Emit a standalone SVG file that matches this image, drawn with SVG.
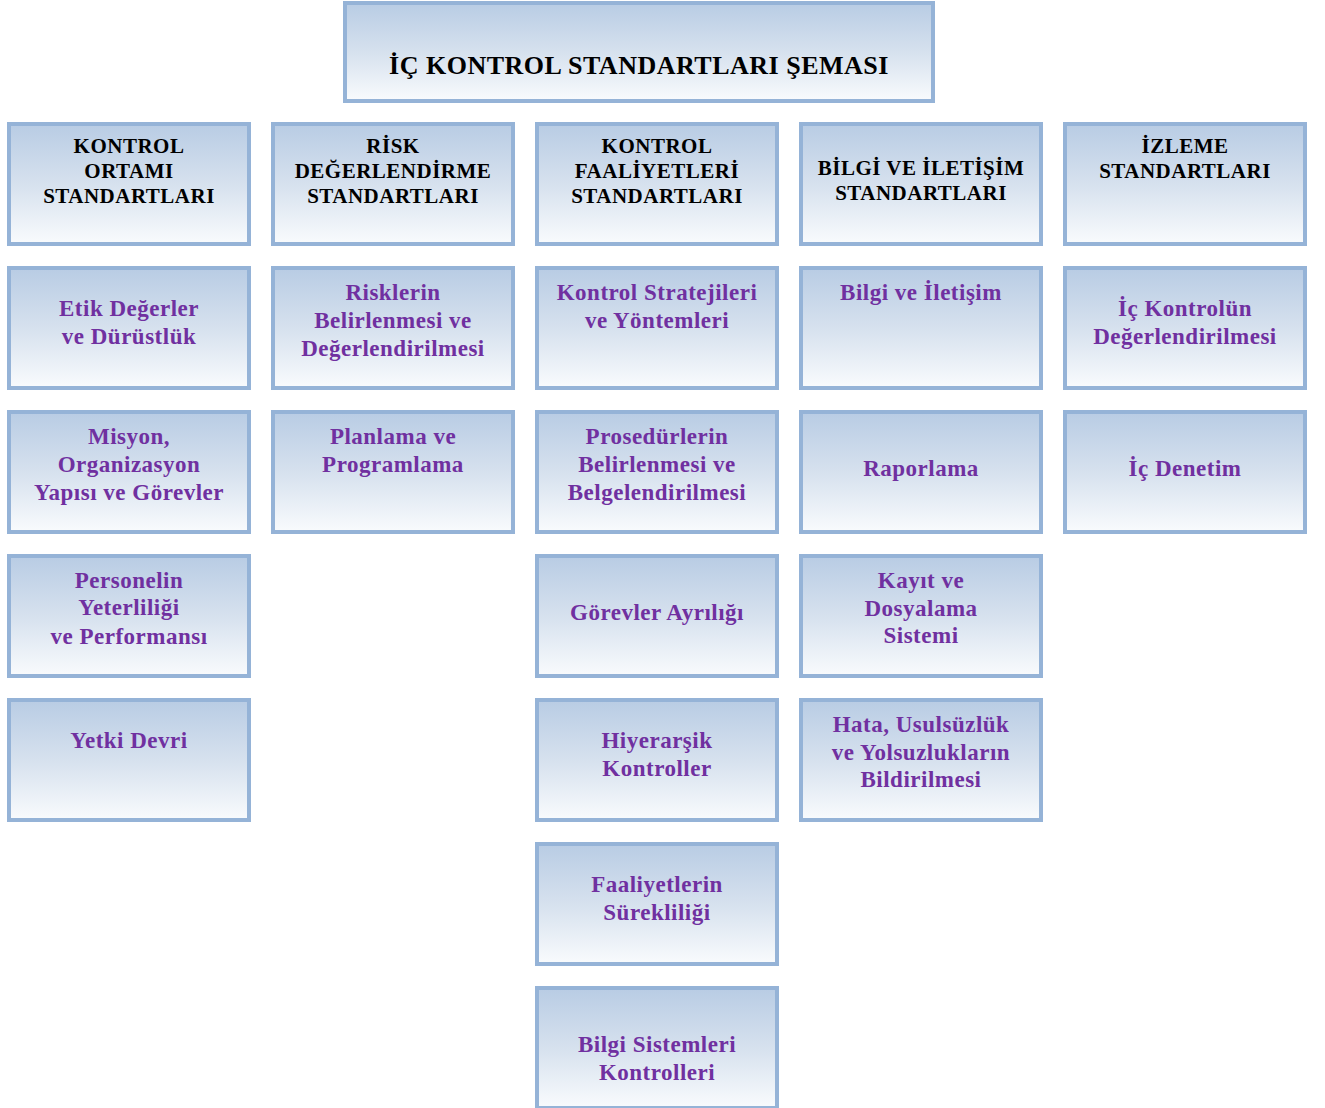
<svg xmlns="http://www.w3.org/2000/svg" width="1325" height="1108" viewBox="0 0 1325 1108">
<defs>
<linearGradient id="g" x1="0" y1="0" x2="0" y2="1">
<stop offset="0" stop-color="#b8cce4"/>
<stop offset="0.5" stop-color="#d6e1ee"/>
<stop offset="1" stop-color="#f9fbfd"/>
</linearGradient>
<style>
.b{fill:url(#g);stroke:#95b3d7;stroke-width:4}
.h{font-family:"Liberation Serif",serif;font-weight:bold;font-size:21px;letter-spacing:0.5px;fill:#000;text-anchor:middle}
.t{font-family:"Liberation Serif",serif;font-weight:bold;font-size:23px;letter-spacing:0.5px;fill:#7030a0;text-anchor:middle}
.ti{font-family:"Liberation Serif",serif;font-weight:bold;font-size:26px;letter-spacing:0.5px;fill:#000;text-anchor:middle}
</style>
</defs>
<rect width="1325" height="1108" fill="#fff"/>
<g id="title"><rect class="b" x="345" y="3" width="588" height="98"/><text class="ti" x="639" y="74">İÇ KONTROL STANDARTLARI ŞEMASI</text></g>
<g id="connectors"></g>
<g id="h1"><rect class="b" x="9" y="124" width="240" height="120"/><text class="h" x="129" y="153">KONTROL</text><text class="h" x="129" y="178">ORTAMI</text><text class="h" x="129" y="203">STANDARTLARI</text></g>
<g id="h2"><rect class="b" x="273" y="124" width="240" height="120"/><text class="h" x="393" y="153">RİSK</text><text class="h" x="393" y="178">DEĞERLENDİRME</text><text class="h" x="393" y="203">STANDARTLARI</text></g>
<g id="h3"><rect class="b" x="537" y="124" width="240" height="120"/><text class="h" x="657" y="153">KONTROL</text><text class="h" x="657" y="178">FAALİYETLERİ</text><text class="h" x="657" y="203">STANDARTLARI</text></g>
<g id="h4"><rect class="b" x="801" y="124" width="240" height="120"/><text class="h" x="921" y="175">BİLGİ VE İLETİŞİM</text><text class="h" x="921" y="200">STANDARTLARI</text></g>
<g id="h5"><rect class="b" x="1065" y="124" width="240" height="120"/><text class="h" x="1185" y="153">İZLEME</text><text class="h" x="1185" y="178">STANDARTLARI</text></g>
<g id="n11"><rect class="b" x="9" y="268" width="240" height="120"/><text class="t" x="129" y="316">Etik Değerler</text><text class="t" x="129" y="344">ve Dürüstlük</text></g>
<g id="n12"><rect class="b" x="9" y="412" width="240" height="120"/><text class="t" x="129" y="444">Misyon,</text><text class="t" x="129" y="472">Organizasyon</text><text class="t" x="129" y="500">Yapısı ve Görevler</text></g>
<g id="n13"><rect class="b" x="9" y="556" width="240" height="120"/><text class="t" x="129" y="588">Personelin</text><text class="t" x="129" y="615">Yeterliliği</text><text class="t" x="129" y="644">ve Performansı</text></g>
<g id="n14"><rect class="b" x="9" y="700" width="240" height="120"/><text class="t" x="129" y="748">Yetki Devri</text></g>
<g id="n21"><rect class="b" x="273" y="268" width="240" height="120"/><text class="t" x="393" y="300">Risklerin</text><text class="t" x="393" y="328">Belirlenmesi ve</text><text class="t" x="393" y="356">Değerlendirilmesi</text></g>
<g id="n22"><rect class="b" x="273" y="412" width="240" height="120"/><text class="t" x="393" y="444">Planlama ve</text><text class="t" x="393" y="472">Programlama</text></g>
<g id="n31"><rect class="b" x="537" y="268" width="240" height="120"/><text class="t" x="657" y="300">Kontrol Stratejileri</text><text class="t" x="657" y="328">ve Yöntemleri</text></g>
<g id="n32"><rect class="b" x="537" y="412" width="240" height="120"/><text class="t" x="657" y="444">Prosedürlerin</text><text class="t" x="657" y="472">Belirlenmesi ve</text><text class="t" x="657" y="500">Belgelendirilmesi</text></g>
<g id="n33"><rect class="b" x="537" y="556" width="240" height="120"/><text class="t" x="657" y="620">Görevler Ayrılığı</text></g>
<g id="n34"><rect class="b" x="537" y="700" width="240" height="120"/><text class="t" x="657" y="748">Hiyerarşik</text><text class="t" x="657" y="776">Kontroller</text></g>
<g id="n35"><rect class="b" x="537" y="844" width="240" height="120"/><text class="t" x="657" y="892">Faaliyetlerin</text><text class="t" x="657" y="920">Sürekliliği</text></g>
<g id="n36"><rect class="b" x="537" y="988" width="240" height="120"/><text class="t" x="657" y="1052">Bilgi Sistemleri</text><text class="t" x="657" y="1080">Kontrolleri</text></g>
<g id="n41"><rect class="b" x="801" y="268" width="240" height="120"/><text class="t" x="921" y="300">Bilgi ve İletişim</text></g>
<g id="n42"><rect class="b" x="801" y="412" width="240" height="120"/><text class="t" x="921" y="476">Raporlama</text></g>
<g id="n43"><rect class="b" x="801" y="556" width="240" height="120"/><text class="t" x="921" y="588">Kayıt ve</text><text class="t" x="921" y="616">Dosyalama</text><text class="t" x="921" y="643">Sistemi</text></g>
<g id="n44"><rect class="b" x="801" y="700" width="240" height="120"/><text class="t" x="921" y="732">Hata, Usulsüzlük</text><text class="t" x="921" y="760">ve Yolsuzlukların</text><text class="t" x="921" y="787">Bildirilmesi</text></g>
<g id="n51"><rect class="b" x="1065" y="268" width="240" height="120"/><text class="t" x="1185" y="316">İç Kontrolün</text><text class="t" x="1185" y="344">Değerlendirilmesi</text></g>
<g id="n52"><rect class="b" x="1065" y="412" width="240" height="120"/><text class="t" x="1185" y="476">İç Denetim</text></g>
</svg>
